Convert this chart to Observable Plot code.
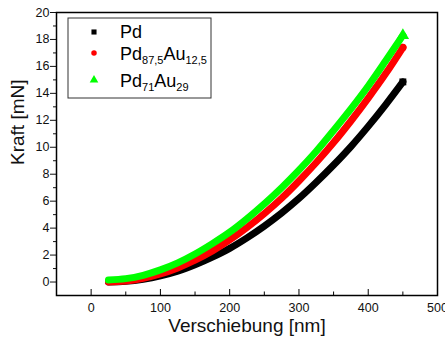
<!DOCTYPE html>
<html><head><meta charset="utf-8">
<script src="https://cdn.jsdelivr.net/npm/d3@7"></script>
<script src="https://cdn.jsdelivr.net/npm/@observablehq/plot@0.6"></script>
<style>
body{margin:0;background:#fff;}
#wrap{width:445px;height:342px;}
</style></head><body><div id="wrap"></div>
<script>
// Displacement (nm)
const xValues = [25,50,75,100,125,150,175,200,225,250,275,300,325,350,375,400,425,450];
// Force (mN)
const pd     = [0,0.05,0.2,0.45,0.8,1.28,1.85,2.5,3.28,4.15,5.12,6.2,7.4,8.68,10.05,11.55,13.15,14.85];
const pdAu12 = [0,0.07,0.28,0.6,1.05,1.62,2.3,3.12,4.05,5.08,6.22,7.5,8.87,10.35,11.95,13.65,15.45,17.4];
const pdAu29 = [0.15,0.25,0.5,0.9,1.42,2.08,2.85,3.7,4.7,5.8,7.0,8.3,9.7,11.25,12.85,14.55,16.4,18.3];
const seriesNames = ["Pd", "Pd87,5Au12,5", "Pd71Au29"];
const xTicks = [0,100,200,300,400,500];
const xMinor = [50,150,250,350,450];
const yTicks = [0,2,4,6,8,10,12,14,16,18,20];
const yMinor = [1,3,5,7,9,11,13,15,17,19];

const colors = ["#000000", "#ff0000", "#00ff00"];
const symbols = ["square", "circle", "triangle"];
const radii = [3.9, 3.7, 4.6];
const seriesValues = [pd, pdAu12, pdAu29];

const W = 445, H = 342, mL = 56, mR = 8, mT = 12, mB = 47;
const plotH = H - mT - mB;
const font = 'Arial, "Liberation Sans", sans-serif';

const marks = [];
seriesValues.forEach((vals, i) => {
  const rows = xValues.map((x, j) => ({x, y: vals[j], s: seriesNames[i]}));
  marks.push(Plot.line(rows, {x: "x", y: "y", stroke: colors[i], strokeWidth: 7, curve: "catmull-rom"}));
  const ends = [rows[rows.length - 1]];
  marks.push(Plot.dot(ends, {x: "x", y: "y", symbol: symbols[i], r: radii[i], fill: colors[i], stroke: "none"}));
});

const plot = Plot.plot({
  width: W, height: H,
  marginLeft: mL, marginRight: mR, marginTop: mT, marginBottom: mB,
  style: {fontFamily: font, fontSize: "12.5px", color: "#111", background: "white", overflow: "visible"},
  x: {domain: [-50, 500]},
  y: {domain: [-1, 20]},
  marks: [
    ...marks,
    Plot.axisY(yTicks, {tickSize: 6, tickPadding: 1, label: null, fontSize: 12.5}),
    Plot.axisY(yMinor, {tickSize: 3, text: null, label: null}),
    Plot.axisX(xTicks, {tickSize: 0, tickPadding: 8, label: null, fontSize: 12.5}),
    Plot.tickX(xTicks, {x: d => d, insetTop: plotH - 6, stroke: "black"}),
    Plot.tickX(xMinor, {x: d => d, insetTop: plotH - 3.5, stroke: "black"}),
    Plot.frame({stroke: "black", strokeWidth: 1.5}),
    Plot.text(["Kraft [mN]"], {text: d => d, frameAnchor: "left", dx: -39, dy: 11, rotate: -90, fontSize: 19}),
    Plot.text(["Verschiebung [nm]"], {text: d => d, frameAnchor: "bottom", dy: 36, fontSize: 19})
  ]
});

// Legend
const svg = d3.select(plot);
const lg = svg.append("g").attr("font-family", font).attr("fill", "#000").attr("text-anchor", "start");
lg.append("rect").attr("x", 68).attr("y", 18).attr("width", 143).attr("height", 80)
  .attr("fill", "white").attr("stroke", "#333").attr("stroke-width", 1);
const legendRows = [
  {parts: [["Pd", 0]], my: 32, by: 37.5},
  {parts: [["Pd", 0], ["87,5", 1], ["Au", 0], ["12,5", 1]], my: 53, by: 60},
  {parts: [["Pd", 0], ["71", 1], ["Au", 0], ["29", 1]], my: 80, by: 86.5}
];
const symMap = {square: d3.symbolSquare, circle: d3.symbolCircle, triangle: d3.symbolTriangle};
const legendSizes = [26, 24, 32];
legendRows.forEach((row, i) => {
  lg.append("path").attr("d", d3.symbol(symMap[symbols[i]], legendSizes[i])())
    .attr("transform", `translate(94,${row.my})`).attr("fill", colors[i]);
  const t = lg.append("text").attr("x", 120).attr("y", row.by).attr("font-size", 18).attr("text-anchor", "start");
  let sub = false;
  row.parts.forEach(([s, isSub]) => {
    const ts = t.append("tspan").text(s);
    if (isSub && !sub) { ts.attr("dy", 4).attr("font-size", 11); sub = true; }
    else if (!isSub && sub) { ts.attr("dy", -4); sub = false; }
    else if (isSub) ts.attr("font-size", 11);
  });
});

document.getElementById("wrap").appendChild(plot);
</script>
</body></html>
